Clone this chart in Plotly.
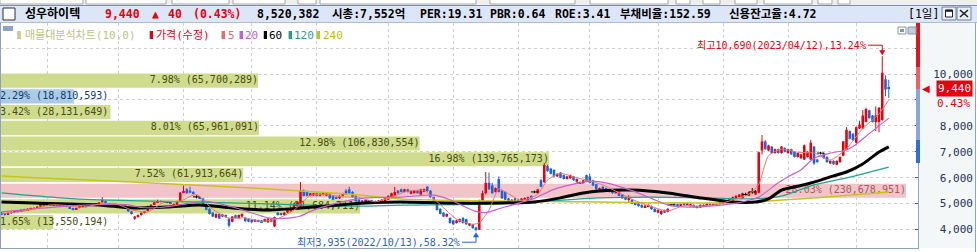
import plotly.graph_objects as go

# ---------------- data ----------------
opens = [
    4650, 4600, 4580, 4640, 4680, 4720, 4700, 4760, 4750, 4800,
    4830, 4820, 4880, 4980, 4930, 4970, 4940, 4980, 4920, 4900,
    4960, 4880, 4820, 4780, 4830, 4880, 4910, 4980, 4940, 4990,
    4960, 5050, 5100, 5000, 4960, 4920, 4950, 4900, 4950, 4850,
    4700, 4420, 4480, 4560, 4640, 4720, 4900, 4950, 5050, 5100,
    5080, 5060, 5060, 4930, 4950, 5100, 5420, 5550, 5500, 5450,
    5260, 5250, 5200, 4950, 4800, 4650, 4460, 4600, 4500, 4560,
    4420, 4300, 4550, 4430, 4500, 4450, 4400, 4380, 4300, 4360,
    4350, 4300, 4280, 4400, 4120, 4650, 4620, 4560, 4650, 4700,
    4800, 4900, 4880, 5500, 5450, 5300, 5320, 5400, 5300, 5330,
    5400, 5380, 5300, 5250, 5200, 5300, 5500, 5550, 5450, 5300,
    5150, 5050, 5150, 5100, 5120, 5100, 5040, 5060, 5100, 5150,
    5250, 5300, 5500, 5550, 5450, 5550, 5380, 5400, 5500, 5350,
    5450, 5650, 5500, 5250, 5050, 4800, 4650, 4500, 4450, 4350,
    4250, 4300, 4450, 4400, 4150, 4200, 4080, 3990, 5100, 5400,
    5800, 5700, 5450, 5950, 5500, 5450, 5200, 5050, 5200, 5150,
    5100, 5150, 5100, 5300, 5450, 5400, 5900, 5830, 6450, 6350,
    6300, 6050, 6200, 6100, 5950, 5980, 6050, 5850, 5800, 5800,
    6100, 6050, 5900, 5750, 5500, 5650, 5600, 5450, 5500, 5400,
    5450, 5350, 5250, 5150, 5150, 5050, 5000, 4950, 4850, 4880,
    4900, 4800, 4650, 4600, 4750, 4680, 4950, 5000, 4980, 4900,
    5000, 4950, 4900, 4950, 4900, 4850, 4880, 4900, 5000, 4920,
    4930, 4980, 5080, 5020, 5050, 5100, 5200, 5250, 5200, 5350,
    5300, 5450, 5350, 5420, 7050, 7400, 7050, 7200, 6950, 7100,
    6950, 7150, 6950, 7100, 7000, 6800, 6750, 6700, 6800, 6700,
    7200, 6700, 6950, 6950, 6800, 6550, 6650, 6500, 6600, 6850,
    7100, 7800, 7700, 7350, 7900, 7900, 8150, 8600, 8400, 8150,
    8150, 8230, 9800, 9500,
]
highs = [
    4680, 4640, 4660, 4700, 4720, 4750, 4780, 4800, 4820, 4850,
    4870, 4900, 5050, 5000, 4990, 5000, 5000, 5000, 4960, 4980,
    4980, 4900, 4840, 4850, 4900, 4930, 4930, 5020, 5010, 5000,
    5060, 5250, 5120, 5020, 4980, 4970, 4960, 4970, 4960, 4860,
    4720, 4520, 4580, 4660, 4720, 4920, 4980, 5070, 5150, 5120,
    5100, 5100, 5080, 5000, 5110, 5450, 5700, 5600, 5650, 5480,
    5320, 5280, 5220, 4980, 4820, 4680, 4620, 4620, 4600, 4580,
    4440, 4520, 4580, 4580, 4620, 4470, 4420, 4400, 4400, 4380,
    4360, 4420, 4440, 4420, 4500, 4680, 4640, 4670, 4770, 4820,
    5020, 5070, 5830, 5550, 5500, 5420, 5420, 5430, 5400, 5440,
    5420, 5400, 5320, 5280, 5320, 5420, 5560, 5650, 5480, 5320,
    5170, 5140, 5160, 5140, 5140, 5120, 5140, 5170, 5240, 5320,
    5420, 5640, 5520, 5580, 5570, 5570, 5500, 5520, 5520, 5570,
    5580, 5680, 5520, 5270, 5070, 4820, 4670, 4620, 4470, 4370,
    4370, 4420, 4470, 4420, 4250, 4220, 4100, 5150, 5500, 6220,
    6200, 5800, 5620, 6050, 5520, 5470, 5220, 5170, 5220, 5170,
    5220, 5240, 5270, 5320, 5500, 5570, 5950, 6570, 6500, 6380,
    6320, 6170, 6220, 6120, 6070, 6120, 6070, 5970, 5850, 5920,
    6120, 6150, 5920, 5770, 5620, 5670, 5620, 5570, 5520, 5500,
    5470, 5370, 5270, 5330, 5170, 5070, 5020, 4970, 4940, 4970,
    4920, 4820, 4780, 4740, 4770, 4820, 5000, 5020, 5000, 5000,
    5020, 5020, 5000, 4970, 4920, 4970, 4970, 5020, 5020, 5000,
    5000, 5100, 5100, 5120, 5220, 5270, 5320, 5370, 5420, 5420,
    5470, 5600, 5520, 7000, 7650, 7450, 7270, 7220, 7120, 7120,
    7220, 7170, 7120, 7120, 7020, 6970, 6920, 7280, 7020, 7450,
    7220, 6720, 7000, 6970, 6820, 6670, 6670, 6670, 6820, 7420,
    7950, 7820, 7720, 7970, 8200, 8610, 8700, 8620, 8420, 8750,
    8720, 10690, 9950, 9780,
]
lows = [
    4560, 4540, 4560, 4600, 4640, 4660, 4680, 4720, 4730, 4770,
    4790, 4800, 4860, 4900, 4900, 4920, 4920, 4900, 4880, 4890,
    4860, 4790, 4740, 4760, 4820, 4860, 4850, 4920, 4930, 4930,
    4950, 5040, 4980, 4940, 4900, 4900, 4880, 4890, 4830, 4680,
    4580, 4370, 4460, 4540, 4620, 4700, 4880, 4940, 5030, 5040,
    5030, 5020, 4980, 4920, 4940, 5080, 5400, 5380, 5400, 5360,
    5200, 5180, 4930, 4740, 4580, 4480, 4440, 4400, 4480, 4460,
    4080, 4280, 4430, 4420, 4490, 4300, 4280, 4260, 4290, 4280,
    4260, 4290, 4260, 4280, 4100, 4540, 4540, 4550, 4640, 4690,
    4790, 4890, 4850, 5280, 5280, 5280, 5300, 5280, 5280, 5320,
    5280, 5180, 5130, 5180, 5180, 5280, 5330, 5380, 5230, 5080,
    5030, 5030, 5030, 5060, 5040, 5010, 5020, 5050, 5090, 5140,
    5240, 5290, 5380, 5430, 5440, 5430, 5360, 5390, 5380, 5340,
    5440, 5460, 5230, 5080, 4730, 4580, 4480, 4480, 4230, 4180,
    4230, 4280, 4230, 4180, 4130, 4030, 3935, 3980, 5080, 5350,
    5530, 5380, 5430, 5430, 5180, 5130, 5030, 5030, 5060, 5030,
    5080, 5140, 5090, 5180, 5400, 5390, 5630, 5800, 6230, 6130,
    6030, 6030, 5980, 5930, 5930, 5960, 5880, 5830, 5760, 5780,
    5830, 5780, 5680, 5530, 5480, 5430, 5480, 5430, 5380, 5380,
    5280, 5180, 5130, 5020, 4980, 4930, 4880, 4830, 4830, 4870,
    4760, 4660, 4630, 4560, 4630, 4660, 4900, 4900, 4880, 4890,
    4930, 4940, 4880, 4850, 4810, 4830, 4870, 4890, 4900, 4910,
    4920, 4970, 5000, 5010, 5040, 5090, 5190, 5240, 5190, 5300,
    5290, 5380, 5340, 5400, 6900, 7080, 7030, 6930, 6930, 6930,
    6930, 6980, 6930, 6880, 6780, 6780, 6730, 6680, 6780, 6680,
    6490, 6580, 6900, 6730, 6580, 6530, 6500, 6480, 6580, 6830,
    7080, 7480, 7430, 7330, 7880, 7880, 8130, 8280, 8130, 7800,
    7750, 8200, 9150, 9080,
]
closes = [
    4580, 4570, 4640, 4660, 4700, 4690, 4760, 4740, 4800, 4830,
    4810, 4880, 4980, 4930, 4970, 4940, 4980, 4920, 4900, 4960,
    4880, 4820, 4780, 4830, 4880, 4910, 4870, 4940, 4990, 4960,
    5050, 5140, 5000, 4960, 4920, 4950, 4900, 4950, 4850, 4700,
    4600, 4500, 4560, 4640, 4700, 4900, 4950, 5050, 5100, 5080,
    5050, 5060, 5000, 4960, 5100, 5420, 5480, 5400, 5420, 5380,
    5260, 5200, 4950, 4760, 4600, 4500, 4600, 4420, 4580, 4480,
    4150, 4500, 4450, 4560, 4600, 4320, 4300, 4280, 4380, 4300,
    4280, 4400, 4420, 4300, 4480, 4560, 4560, 4650, 4750, 4800,
    5000, 5050, 5520, 5300, 5300, 5400, 5400, 5300, 5380, 5420,
    5300, 5200, 5150, 5200, 5300, 5400, 5350, 5400, 5250, 5100,
    5050, 5120, 5050, 5100, 5060, 5030, 5120, 5150, 5220, 5300,
    5400, 5450, 5400, 5450, 5550, 5450, 5480, 5500, 5400, 5550,
    5560, 5480, 5250, 5100, 4750, 4600, 4500, 4600, 4250, 4200,
    4350, 4400, 4250, 4200, 4230, 4050, 3980, 5050, 5400, 5800,
    5550, 5400, 5600, 5450, 5200, 5150, 5050, 5150, 5080, 5050,
    5200, 5220, 5250, 5200, 5450, 5550, 5650, 6490, 6250, 6150,
    6050, 6150, 6000, 5950, 6050, 6100, 5900, 5950, 5800, 5900,
    5850, 5800, 5700, 5550, 5600, 5450, 5500, 5550, 5400, 5480,
    5300, 5200, 5150, 5220, 5000, 4950, 4900, 4850, 4920, 4950,
    4780, 4680, 4760, 4720, 4650, 4800, 4950, 4920, 4900, 4980,
    4950, 5000, 4980, 4870, 4830, 4950, 4950, 5000, 4920, 4980,
    4980, 5080, 5020, 5100, 5200, 5250, 5300, 5350, 5400, 5350,
    5450, 5450, 5500, 6980, 7400, 7100, 7250, 6950, 7100, 6950,
    7200, 7000, 7100, 6900, 6800, 6950, 6900, 7250, 7000, 7350,
    6550, 6600, 6950, 6750, 6600, 6650, 6520, 6650, 6800, 7400,
    7850, 7500, 7450, 7950, 8050, 8400, 8650, 8300, 8150, 8400,
    8700, 10050, 9400, 9440,
]

# first trading day of each month (candle index) -> vertical grid lines
month_start_idx = [14, 36, 56, 77, 97, 119, 139, 159, 181, 202, 222, 242, 263]

# 매물대 volume profile, bottom band first
profile_volumes = [13550194, 91684711, 230678951, 61913664, 139765173,
                   106830554, 65961091, 28131649, 18810593, 65700289]

# moving averages (read at sample candles)
ma5_idx = [0, 5, 10, 15, 20, 25, 30, 35, 40, 45, 50, 55, 60, 65, 70, 75, 80, 85, 90, 95,
           100, 105, 110, 115, 120, 125, 130, 135, 140, 145, 147, 150, 153, 156, 160, 165,
           168, 172, 176, 180, 185, 190, 195, 200, 205, 210, 215, 220, 225, 230, 233, 236,
           240, 245, 250, 255, 260, 265, 270, 273]
ma5_val = [4620, 4680, 4790, 4950, 4930, 4850, 4980, 5000, 4760, 4680, 5050, 5100, 5350,
           4780, 4440, 4450, 4310, 4420, 4750, 5310, 5350, 5260, 5240, 5070, 5250, 5480,
           5500, 4960, 4400, 4200, 4260, 4750, 5560, 5380, 5120, 5360, 5910, 6170, 6030,
           5910, 5720, 5420, 5110, 4880, 4720, 4920, 4900, 4960, 5140, 5360, 5750, 6850,
           7100, 6980, 6950, 6680, 7120, 7900, 8460, 9000]
ma20_idx = [0, 6, 20, 30, 39, 43, 49, 57, 62, 67, 73, 82, 85, 89, 92, 95, 102, 112, 123, 133,
            138, 143, 146, 149, 153, 164, 170, 180, 186, 194, 200, 205, 210, 215, 225, 230,
            233, 239, 243, 246, 250, 255, 260, 262, 267, 270, 273]
ma20_val = [4680, 4750, 4900, 4960, 4950, 4850, 4850, 5000, 5100, 5000, 4800, 4450, 4420,
            4450, 4520, 4700, 4980, 5220, 5250, 5330, 5150, 4850, 4700, 4650, 4800, 5200,
            5550, 5850, 5800, 5500, 5200, 4950, 4870, 4870, 5000, 5130, 5250, 5800, 6100,
            6300, 6750, 6950, 7070, 7200, 7700, 8000, 8300]
ma60_idx = [0, 10, 30, 40, 51, 61, 71, 82, 92, 104, 112, 123, 138, 153, 164, 172, 179, 184,
            194, 205, 215, 225, 232, 236, 240, 246, 250, 255, 260, 265, 270, 273]
ma60_val = [5060, 5020, 4950, 4830, 4870, 4950, 4830, 4750, 4830, 4950, 5020, 5060, 5020,
            5020, 5060, 5220, 5410, 5490, 5520, 5410, 5220, 5060, 5060, 5180, 5520, 5700,
            5830, 6030, 6220, 6530, 6990, 7190]
ma120_idx = [0, 18, 30, 61, 92, 110, 123, 153, 184, 200, 215, 230, 240, 250, 260, 273]
ma120_val = [5410, 5220, 5140, 5060, 4950, 4900, 4940, 4990, 5220, 5250, 5220, 5180, 5290,
             5720, 5990, 6410]
ma240_idx = [0, 12, 40, 71, 92, 110, 123, 153, 184, 215, 232, 240, 255, 273]
ma240_val = [6065, 5990, 5830, 5640, 5490, 5330, 5180, 5100, 5060, 5020, 5060, 5140, 5260, 5450]

# texts
stock_name = "성우하이텍"
volume_today = "8,520,382"
info_items = [(332, "시총:7,552억"), (420, "PER:19.31"), (490, "PBR:0.64"),
              (555, "ROE:3.41"), (620, "부채비율:152.59"), (729, "신용잔고율:4.72")]
period_label = "[1일]"
high_label = "최고10,690(2023/04/12),13.24%"
low_label = "최저3,935(2022/10/13),58.32%"
legend_items = [("매물대분석차트(10,0)", "#c9d38c", "#bcc57c"), ("가격(수정)", "#e8000c", "#e8000c"),
                ("5", "#e86a6a", "#e86a6a"), ("20", "#c95ed3", "#c95ed3"), ("60", "#000000", "#000000"),
                ("120", "#1ea08c", "#1ea08c"), ("240", "#c6c21c", "#c0bc10")]
legend_x = [(18, 25), (150, 156), (222, 228), (240, 245), (264, 269), (289, 294), (317, 323)]

# ---------------- layout helpers ----------------
RED = "#e8000c"
BLUE = "#1f63d6"
L, R, T, B = 0, 918, 23, 248
Y_RANGE = [3286, 11971]
X2_RANGE = [-0.46, 282.0]
MONO = "DejaVu Sans Mono, Noto Sans CJK KR"


def px(x):
    return (x - L) / (R - L)


def py(y):
    return (B - y) / (B - T)


shapes = []
annotations = []


def rect(x0, y0, x1, y1, fill, line=None, lw=1, layer="above"):
    shapes.append(dict(type="rect", xref="paper", yref="paper", x0=px(x0), x1=px(x1),
                       y0=py(y1), y1=py(y0), fillcolor=fill, layer=layer,
                       line=dict(width=lw if line else 0, color=line or fill)))


def hline(x0, x1, y, color, lw=1):
    shapes.append(dict(type="line", xref="paper", yref="paper", x0=px(x0), x1=px(x1),
                       y0=py(y), y1=py(y), line=dict(color=color, width=lw)))


def vline(x, y0, y1, color, lw=1):
    shapes.append(dict(type="line", xref="paper", yref="paper", x0=px(x), x1=px(x),
                       y0=py(y0), y1=py(y1), line=dict(color=color, width=lw)))


def text(x, y, s, color, size=11.5, bold=False, anchor="left"):
    annotations.append(dict(xref="paper", yref="paper", x=px(x), y=py(y), text=(f"<b>{s}</b>" if bold else s),
                            showarrow=False, xanchor=anchor, yanchor="middle",
                            font=dict(family=MONO, size=size, color=color)))


fig = go.Figure()

# ---------------- volume profile (base x axis) ----------------
n_bands = len(profile_volumes)
pmin, pmax = min(closes), max(closes)
step = (pmax - pmin) / n_bands
mids = [pmin + step * (k + 0.5) for k in range(n_bands)]
total = sum(profile_volumes)
pcts = [v / total * 100 for v in profile_volumes]
k_max = pcts.index(max(pcts))
k_cur = min(int((closes[-1] - pmin) // step), n_bands - 1)
bar_colors, txt_colors = [], []
for k in range(n_bands):
    if k == k_max:
        bar_colors.append("#f1c4c9"); txt_colors.append("#a65a5f")
    elif k == k_cur:
        bar_colors.append("#a9cbe5"); txt_colors.append("#0d3a78")
    else:
        bar_colors.append("#cfdc8d"); txt_colors.append("#4b4b14")
BAR_MAX_PX = 906
x_range = [0, max(pcts) * (R - L) / BAR_MAX_PX]
fig.add_trace(go.Bar(orientation="h", x=pcts, y=mids, width=step * 0.9,
                     marker=dict(color=bar_colors, line=dict(width=0)),
                     xaxis="x", yaxis="y", hoverinfo="skip"))
labels = [f"{p:.2f}% ({v:,})" for p, v in zip(pcts, profile_volumes)]
tx, tpos = [], []
for p, lab in zip(pcts, labels):
    bar_px = p / max(pcts) * BAR_MAX_PX
    if len(lab) * 6.02 + 4 <= bar_px:
        tx.append(p); tpos.append("middle left")
    else:
        tx.append(0); tpos.append("middle right")
fig.add_trace(go.Scatter(x=tx, y=mids, mode="text", text=labels, textposition=tpos,
                         textfont=dict(family=MONO, size=10, color=txt_colors),
                         xaxis="x", yaxis="y", hoverinfo="skip"))

# ---------------- candles (overlay x2 axis) ----------------
n = len(closes)
assert len(opens) == n == len(highs) == len(lows)
up = [i for i in range(n) if closes[i] > opens[i]]
dn = [i for i in range(n) if closes[i] < opens[i]]
dj = [i for i in range(n) if closes[i] == opens[i]]


def wicks(ids):
    xs, ys = [], []
    for i in ids:
        xs += [i, i, None]
        ys += [lows[i], highs[i], None]
    return xs, ys


for ids, col in ((up, RED), (dn, BLUE), (dj, "#000000")):
    wx, wy = wicks(ids)
    fig.add_trace(go.Scatter(x=wx, y=wy, mode="lines", line=dict(color=col, width=1),
                             xaxis="x2", yaxis="y", hoverinfo="skip"))
for ids, col in ((up, RED), (dn, BLUE)):
    fig.add_trace(go.Bar(x=ids, y=[abs(closes[i] - opens[i]) for i in ids],
                         base=[min(closes[i], opens[i]) for i in ids], width=0.8,
                         marker=dict(color=col, line=dict(width=0)),
                         xaxis="x2", yaxis="y", hoverinfo="skip"))
fig.add_trace(go.Scatter(x=dj, y=[closes[i] for i in dj], mode="markers",
                         marker=dict(symbol="line-ew", size=5, line=dict(color="#000000", width=1)),
                         xaxis="x2", yaxis="y", hoverinfo="skip"))

# moving averages
for xs, ys, col, w in ((ma240_idx, ma240_val, "#c8c21e", 1.5),
                       (ma120_idx, ma120_val, "#1fa58f", 1.3),
                       (ma60_idx, ma60_val, "#000000", 3),
                       (ma20_idx, ma20_val, "#c65ed6", 1.2),
                       (ma5_idx, ma5_val, "#f07474", 1)):
    fig.add_trace(go.Scatter(x=xs, y=ys, mode="lines", line=dict(color=col, width=w, shape="spline", smoothing=0.6),
                             xaxis="x2", yaxis="y", hoverinfo="skip"))

# ---------------- high / low markers ----------------
i_hi = highs.index(max(highs))
i_lo = lows.index(min(lows))
for (ix, iv, col, lab, sgn) in ((i_hi, highs[i_hi], RED, high_label, 1),
                                (i_lo, lows[i_lo], BLUE, low_label, -1)):
    shapes.append(dict(type="path", xref="x2", yref="y", xsizemode="pixel", ysizemode="pixel",
                       xanchor=ix, yanchor=iv,
                       path=f"M -14,{11*sgn} L 0,{11*sgn} L 0,{5*sgn}",
                       line=dict(color=col, width=1)))
    shapes.append(dict(type="path", xref="x2", yref="y", xsizemode="pixel", ysizemode="pixel",
                       xanchor=ix, yanchor=iv,
                       path=f"M -3,{6*sgn} L 3,{6*sgn} L 0,{1*sgn} Z",
                       fillcolor=col, line=dict(color=col, width=0)))
    annotations.append(dict(xref="x2", yref="y", x=ix, y=iv, text=lab, showarrow=False,
                            xanchor="right", yanchor="middle", xshift=-14, yshift=11 * sgn,
                            font=dict(family=MONO, size=10, color=col)))

# ---------------- current price marker on the axis ----------------
last, prev = closes[-1], closes[-2]
chg = last - prev
chg_pct = chg / prev * 100
annotations.append(dict(xref="paper", yref="y", x=px(920), y=last, text="◀", showarrow=False,
                        xanchor="left", yanchor="middle", font=dict(family="DejaVu Sans", size=10, color=RED)))
annotations.append(dict(xref="paper", yref="y", x=px(954), y=last, text=f"{last:,}", showarrow=False,
                        xanchor="center", yanchor="middle", bgcolor=RED, borderpad=1,
                        font=dict(family=MONO, size=11, color="white")))
annotations.append(dict(xref="paper", yref="y", x=px(972), y=last, yshift=-15, text=f"{chg_pct:.2f}%",
                        showarrow=False, xanchor="right", yanchor="middle",
                        font=dict(family=MONO, size=11, color=RED)))

# ---------------- chrome: toolbar, title bar, legend ----------------
rect(0, 0, 977, 5, "#eeeeee")
for a, b in [(0, 83), (86, 166), (172, 229), (233, 285), (298, 316), (320, 476), (490, 575),
             (590, 668), (676, 690), (703, 720), (735, 757), (764, 812), (818, 832), (838, 850)]:
    rect(a, -2, b, 4, "#ffffff", "#a8a8a8")
rect(0, 5, 977, 22.5, "#dce6f6")
hline(0, 977, 5.5, "#7d8fb3")
hline(0, 977, 22.5, "#aebcd6")
rect(3, 8, 15, 20, "#ffffff", "#303030")
rect(942, 7, 956, 20, "#e9eef6", "#6f7f9c")
rect(945.5, 10, 952.5, 17, "#ffffff", "#202020")
hline(945.5, 952.5, 10.8, "#202020", 2)
rect(957, 7, 971, 20, "#e9eef6", "#6f7f9c")
shapes.append(dict(type="line", xref="paper", yref="paper", x0=px(960), x1=px(968), y0=py(10), y1=py(17),
                   line=dict(color="#202020", width=1.6)))
shapes.append(dict(type="line", xref="paper", yref="paper", x0=px(960), x1=px(968), y0=py(17), y1=py(10),
                   line=dict(color="#202020", width=1.6)))

text(23, 14, stock_name, "#000000", 12, True)
text(103, 14, f"{last:,}", RED, 11.5, True)
text(150, 14, "▲", RED, 11.5, True)
text(166, 14, f"{chg:,}", RED, 11.5, True)
text(191, 14, f"({chg_pct:.2f}%)", RED, 11.5, True)
text(255, 14, volume_today, "#000000", 11.5, True)
for xx, s in info_items:
    text(xx - 2, 14, s, "#000000", 11.5, True)
text(906, 14, period_label, "#000000", 11.5, False)

# right axis panel and borders
rect(919, 23, 975, 248, "#f3f7f7", layer="below")
vline(975.5, 23, 252, "#8ea2c2")
vline(0.5, 23, 248, "#8ea2c2")
# coloured strip on the price axis
rect(916, 23, 920, 67, "#e2141e")
rect(916, 67, 920, 89, "#ee6068")
rect(916, 89, 920, 140, "#86a8e0")
rect(916, 140, 920, 163, "#2f6fd0")

# small chart buttons and marker
rect(3, 26, 13, 31, "#8da2c4")
rect(898, 27, 906, 34, "#ffffff", "#8a96a8")
rect(900, 29, 904, 32, "#8a96a8")
rect(908, 27, 916, 34, "#c3ccd8", "#8a96a8")

# legend row
for (mx, tx0), (lab, mcol, tcol) in zip(legend_x, legend_items):
    rect(mx - 1, 31, mx, 39, "#c8c8c8")
    rect(mx, 31, mx + 3, 39, mcol)
    text(tx0 - 2, 35, lab, tcol, 11, False)

# ---------------- axes ----------------
grid_vals = [4000, 5000, 6000, 7000, 8000, 9000, 10000, 11000]
grid_text = []
for v in grid_vals:
    if v in (9000, 11000):
        grid_text.append("")
    else:
        s = f"{v:,}"
        grid_text.append("\u00a0" * (6 - len(s)) + s)

fig.update_layout(
    width=977, height=252,
    margin=dict(l=L, r=977 - R, t=T, b=252 - B),
    paper_bgcolor="white", plot_bgcolor="white",
    showlegend=False, barmode="overlay", hovermode=False,
    xaxis=dict(range=x_range, visible=False, fixedrange=True),
    xaxis2=dict(overlaying="x", anchor="y", side="bottom", range=X2_RANGE,
                tickvals=month_start_idx, showticklabels=False, ticks="",
                showgrid=True, gridcolor="#cfcfcf", griddash="dot", gridwidth=1,
                zeroline=False, showline=True, linecolor="#8ea2c2", linewidth=1),
    yaxis=dict(side="right", range=Y_RANGE, tickvals=grid_vals, ticktext=grid_text,
               showgrid=True, gridcolor="#cfcfcf", griddash="dot", gridwidth=1,
               zeroline=False, showline=True, linecolor="#8ea2c2", linewidth=1,
               ticks="inside", ticklen=3, tickcolor="#4a5a7a", ticklabelstandoff=12,
               tickfont=dict(family=MONO, size=11, color="#28325a")),
    shapes=shapes, annotations=annotations,
    font=dict(family=MONO),
)

fig.write_html("out.html", config={"displayModeBar": False})
